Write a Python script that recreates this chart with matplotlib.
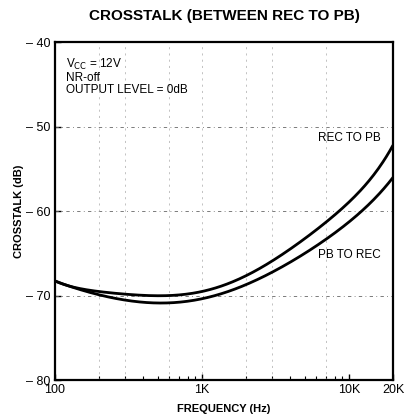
import numpy as np
import matplotlib
matplotlib.use("Agg")
import matplotlib.pyplot as plt
from matplotlib.ticker import FixedLocator, NullFormatter

plt.rcParams['font.family'] = ['Liberation Sans', 'DejaVu Sans']

# Curve readings (frequency in Hz, crosstalk in dB)
freq = [100, 150, 200, 300, 500, 700, 1000, 1500, 2000, 3000, 5000, 7000, 10000, 15000, 20000]
rec_to_pb = [-68.3, -69.1, -69.6, -69.9, -70.0, -69.9, -69.5, -68.6, -67.7, -66.0, -63.2, -61.3, -59.0, -55.6, -52.2]
pb_to_rec = [-68.3, -69.3, -69.9, -70.6, -70.9, -70.8, -70.3, -69.5, -68.8, -67.3, -65.0, -63.3, -61.3, -58.6, -56.0]

x_ticks = [100, 1000, 10000, 20000]
x_labels = ["100", "1K", "10K", "20K"]
y_ticks = [-80, -70, -60, -50, -40]
y_labels = ["\u2013 80", "\u2013 70", "\u2013 60", "\u2013 50", "\u2013 40"]

fig = plt.figure(figsize=(4.07, 4.17), dpi=100)
ax = fig.add_axes([55 / 407, 1 - 380 / 417, 338 / 407, 338 / 417])

# smooth curves through the readings in log-frequency space
lf = np.log10(freq)
xs = np.linspace(lf[0], lf[-1], 300)
for vals in (rec_to_pb, pb_to_rec):
    c = np.polyfit(lf, vals, 6)
    ax.plot(10 ** xs, np.polyval(c, xs), color='black', lw=2.0, solid_capstyle='butt', zorder=3)

ax.set_xscale('log')
ax.set_xlim(100, 20000)
ax.set_ylim(-80, -40)

# faint scanned-style grid
for y in (-50, -60, -70):
    ax.axhline(y, color='#666666', lw=0.6, ls=(0, (4, 4, 1, 4)))
for f in (200, 300, 600, 1000, 2000, 3000, 7000):
    ax.axvline(f, color='#aaaaaa', lw=0.5, ls=(0, (3, 6)))

ax.set_xticks(x_ticks)
ax.set_xticklabels(x_labels)
ax.xaxis.set_minor_locator(FixedLocator([200, 300, 400, 500, 600, 700, 800, 900,
                                         2000, 3000, 4000, 5000, 6000, 7000, 8000, 9000]))
ax.xaxis.set_minor_formatter(NullFormatter())
ax.set_yticks(y_ticks)
ax.set_yticklabels(y_labels)
ax.tick_params(axis='both', which='major', direction='in', length=4, width=1, labelsize=9, pad=3)
ax.tick_params(axis='x', which='minor', direction='in', length=3, width=0.8)
for s in ax.spines.values():
    s.set_linewidth(1.6)

ax.set_title("CROSSTALK (BETWEEN REC TO PB)", fontsize=11, fontweight='bold', pad=16)
ax.set_xlabel("FREQUENCY (Hz)", fontsize=8, fontweight='bold', labelpad=6)
ax.set_ylabel("CROSSTALK (dB)", fontsize=8, fontweight='bold', labelpad=2)

ax.text(0.032, 0.955, "V$_{\\rm CC}$ = 12V\nNR-off\nOUTPUT LEVEL = 0dB", transform=ax.transAxes,
        fontsize=8.5, va='top', ha='left', linespacing=1.0)
ax.text(0.965, 0.715, "REC TO PB", transform=ax.transAxes, fontsize=8.5, ha='right', va='center')
ax.text(0.965, 0.37, "PB TO REC", transform=ax.transAxes, fontsize=8.5, ha='right', va='center')

fig.savefig("out.png", dpi=100)
